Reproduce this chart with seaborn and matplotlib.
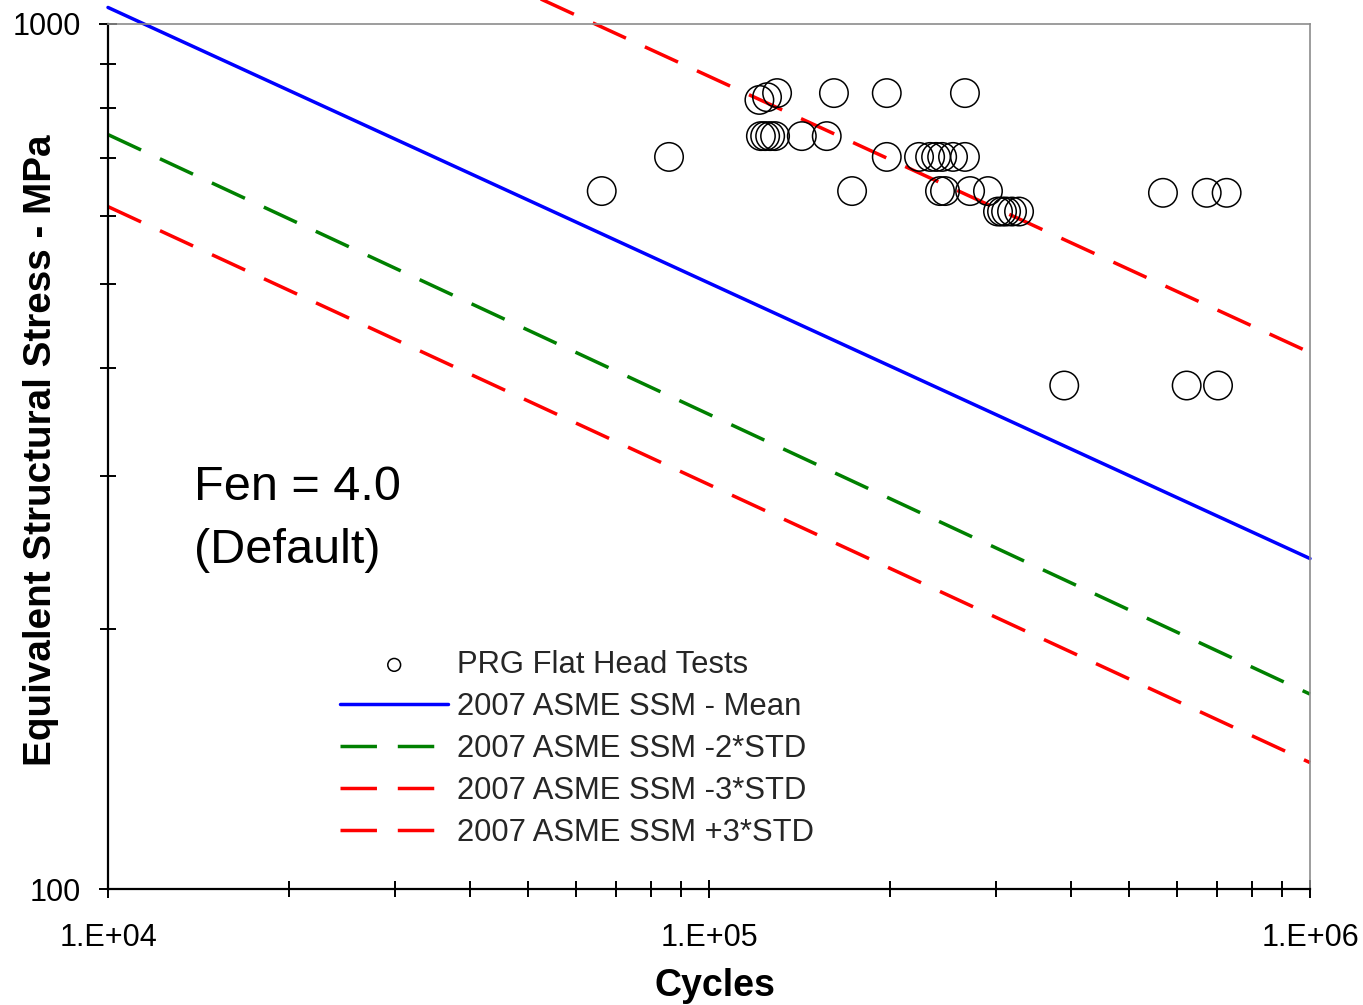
import numpy as np
import pandas as pd
import matplotlib
matplotlib.use("Agg")
import matplotlib.pyplot as plt
from matplotlib.ticker import FixedLocator, FixedFormatter, LogLocator, NullFormatter
import seaborn as sns

# test data (cycles, equivalent structural stress MPa)
test_cycles = [66300, 85800,
               121300, 124900, 129800, 161400, 197600, 266600,
               122000, 124000, 126400, 128800, 142700, 157000,
               197600, 223600, 233300, 238700, 244300, 254700, 266600,
               173000, 242300, 247000, 271900, 291200,
               569300, 673200, 726600,
               302600, 307300, 312100, 319300, 328000,
               390000, 623400, 703000]
test_stress = [641, 702,
               817, 823, 832, 832, 832, 832,
               742, 742, 742, 742, 742, 742,
               702, 702, 702, 702, 702, 702, 702,
               641, 641, 641, 641, 641,
               638, 638, 638,
               607, 607, 607, 607, 607,
               382, 382, 382]

# master S-N curve end points
curve_cycles = [1e4, 1e6]
mean_stress = [1045, 241]
minus2_stress = [745, 168]
minus3_stress = [615, 140]
plus3_stress = [1815, 417]

x_ticks = [1e4, 1e5, 1e6]
x_tick_labels = ["1.E+04", "1.E+05", "1.E+06"]
y_ticks = [100, 1000]
y_tick_labels = ["100", "1000"]

sns.set_style("white")
plt.rcParams['font.family'] = ['Liberation Sans', 'DejaVu Sans']

fig = plt.figure(figsize=(13.63, 10.05), dpi=100)
ax = fig.add_axes([108/1363, 1-889/1005, 1202/1363, 865/1005])

tests = pd.DataFrame({"cycles": test_cycles, "stress": test_stress})
sns.scatterplot(data=tests, x="cycles", y="stress", ax=ax, marker="o", s=420,
                linewidth=1.1, zorder=3)
pts = ax.collections[-1]
pts.set_facecolor("none")
pts.set_edgecolor("black")

lw = 2.5
dash = (0, (10.5, 6))
sns.lineplot(x=curve_cycles, y=mean_stress, ax=ax, color="#0000ff", lw=lw, clip_on=False)
sns.lineplot(x=curve_cycles, y=minus2_stress, ax=ax, color="#008000", lw=lw, linestyle=dash, clip_on=False)
sns.lineplot(x=curve_cycles, y=minus3_stress, ax=ax, color="#ff0000", lw=lw, linestyle=dash, clip_on=False)
sns.lineplot(x=curve_cycles, y=plus3_stress, ax=ax, color="#ff0000", lw=lw, linestyle=dash, clip_on=False)

ax.set_xscale("log")
ax.set_yscale("log")
ax.set_xlim(1e4, 1e6)
ax.set_ylim(100, 1000)

ax.xaxis.set_major_locator(FixedLocator(x_ticks))
ax.xaxis.set_major_formatter(FixedFormatter(x_tick_labels))
ax.yaxis.set_major_locator(FixedLocator(y_ticks))
ax.yaxis.set_major_formatter(FixedFormatter(y_tick_labels))
ax.xaxis.set_minor_locator(LogLocator(base=10, subs=np.arange(2, 10)))
ax.yaxis.set_minor_locator(LogLocator(base=10, subs=np.arange(2, 10)))
ax.xaxis.set_minor_formatter(NullFormatter())
ax.yaxis.set_minor_formatter(NullFormatter())

ax.tick_params(which="major", direction="inout", length=13, width=1.4, color="black",
               labelsize=22, labelcolor="black")
ax.tick_params(which="minor", direction="inout", length=11, width=1.4, color="black")
ax.tick_params(axis="x", which="both", bottom=True, pad=18)
ax.tick_params(axis="y", which="both", left=True, pad=13)

for side in ["left", "bottom"]:
    ax.spines[side].set_color("black")
    ax.spines[side].set_linewidth(1.6)
for side in ["top", "right"]:
    ax.spines[side].set_color("#8c8c8c")
    ax.spines[side].set_linewidth(1.2)

ax.set_xlabel("Cycles", fontsize=27, fontweight="bold", color="black")
ax.set_ylabel("Equivalent Structural Stress - MPa", fontsize=27.8, fontweight="bold", color="black")
ax.xaxis.set_label_coords((715-108)/1202, -(986-889)/865)
ax.xaxis.label.set_va("center")
ax.yaxis.set_label_coords((41-108)/1202, 1-(450-24)/865)
ax.yaxis.label.set_va("center")

ax.text((194-108)/1202, 1-(500-24)/865, "Fen = 4.0", transform=ax.transAxes,
        fontsize=35, va="baseline", ha="left", color="black")
ax.text((194-108)/1202, 1-(563-24)/865, "(Default)", transform=ax.transAxes,
        fontsize=35, va="baseline", ha="left", color="black")

lines = ax.get_lines()
handles = [pts] + lines[:4]
labels = ["PRG Flat Head Tests", "2007 ASME SSM - Mean", "2007 ASME SSM -2*STD",
          "2007 ASME SSM -3*STD", "2007 ASME SSM +3*STD"]
leg = ax.legend(handles, labels, loc="upper left",
                bbox_to_anchor=((340-108)/1202, 1-(650-24)/865),
                frameon=False, fontsize=22.3, handlelength=3.5, handletextpad=0.27,
                labelspacing=0.39, borderpad=0, borderaxespad=0, markerscale=0.45)

fig.savefig("out.png", dpi=100, facecolor="white")
